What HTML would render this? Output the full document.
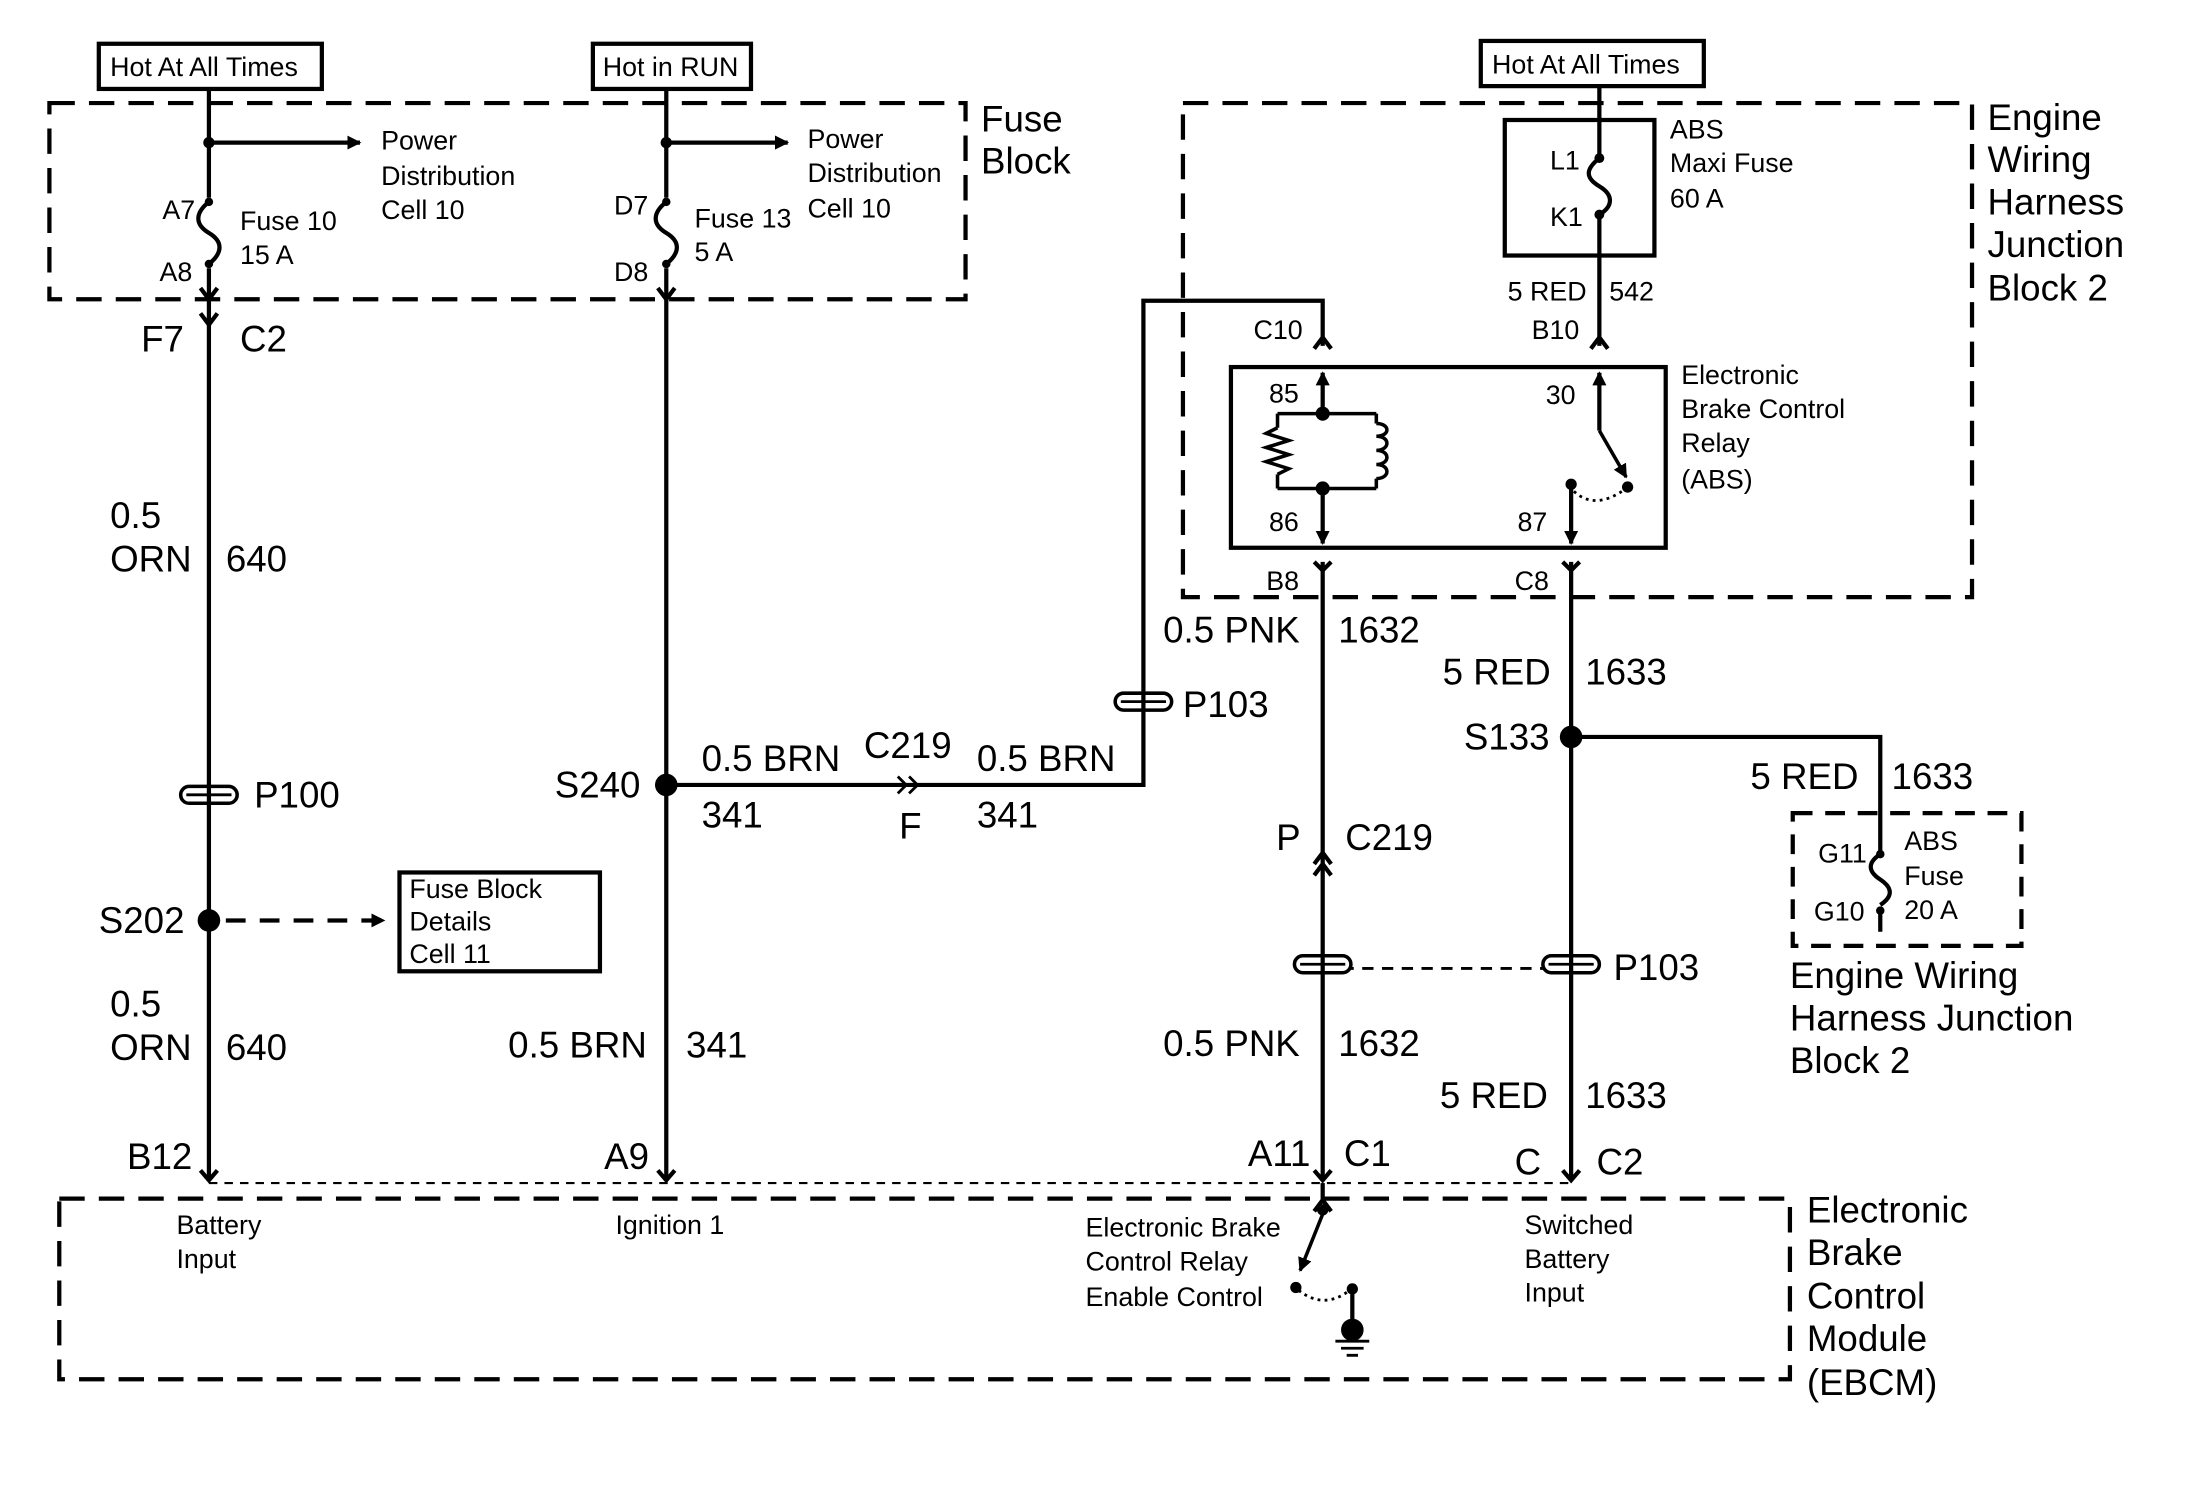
<!DOCTYPE html>
<html><head><meta charset="utf-8"><style>
html,body{margin:0;padding:0;background:#fff;}
svg{display:block}
text{font-family:"Liberation Sans",Arial,sans-serif;fill:#000}
.s{font-size:19px}.l{font-size:26px}
</style></head><body>
<svg width="2212" height="1488" viewBox="0 0 1567 1054" preserveAspectRatio="none" xmlns="http://www.w3.org/2000/svg">
<defs>
<marker id="ah" markerWidth="10" markerHeight="10" refX="9" refY="5" orient="auto" markerUnits="userSpaceOnUse"><path d="M0,0 L10,5 L0,10 z" fill="#000"/></marker>
</defs>
<g fill="none" stroke="#000" stroke-width="3">
<rect x="70" y="31" width="158" height="32"/>
<rect x="420" y="31" width="112" height="32"/>
<rect x="1049" y="29" width="158" height="32"/>
<rect x="35" y="73" width="649" height="139" stroke-dasharray="18,10"/>
<rect x="838" y="73" width="559" height="350" stroke-dasharray="18,10"/>
<rect x="1270" y="576" width="162" height="94" stroke-dasharray="14,9"/>
<rect x="42" y="849" width="1226" height="128" stroke-dasharray="18,10"/>
<path d="M148 63 V140 M148 190 V835"/>
<path d="M148 140 c-10 8 -10 16 0 22 c10 6 10 14 0 22" transform="translate(0,3)"/>
<path d="M148 101 H255" marker-end="url(#ah)"/>
<path d="M142 204 L148 212 L154 204"/>
<path d="M142 222 L148 230 L154 222"/>
<path d="M472 63 V140 M472 190 V835"/>
<path d="M472 140 c-10 8 -10 16 0 22 c10 6 10 14 0 22" transform="translate(0,3)"/>
<path d="M472 101 H558" marker-end="url(#ah)"/>
<path d="M466 204 L472 212 L478 204"/>
<path d="M472 556 H810 V213 H937 V245"/>
<path d="M636 550 L642 556 L636 562 M644 550 L650 556 L644 562" stroke-width="2"/>
<path d="M931 247 L937 239 L943 247"/>
<rect x="1066" y="85" width="106" height="96"/>
<path d="M1133 61 V112 M1133 152 V245"/>
<path d="M1133 112 c-10 8 -10 14 0 20 c10 6 10 14 0 20"/>
<path d="M1127 247 L1133 239 L1139 247"/>
<rect x="872" y="260" width="308" height="128"/>
<path d="M937 293 V264" marker-end="url(#ah)"/>
<path d="M937 346 V385" marker-end="url(#ah)"/>
<path d="M905 293 H975 M905 346 H975 M905 293 V303 M905 336 V346 M975 293 V300 M975 339 V346" stroke-width="2.5"/>
<path d="M905 303 l-8 4 l16 5 l-16 5 l16 5 l-16 5 l16 5 l-8 4" stroke-width="2.5"/>
<path d="M975 300 c10 0 10 9 0 9 c10 0 10 10 0 10 c10 0 10 10 0 10 c10 0 10 10 0 10" stroke-width="2.5"/>
<path d="M1133 305 V264" marker-end="url(#ah)"/>
<path d="M1133 305 L1152 338" marker-end="url(#ah)" stroke-width="2.5"/>
<path d="M1113 343 V385" marker-end="url(#ah)"/>
<path d="M1115 348 Q1130 362 1152 346" stroke-dasharray="2,3" stroke-width="2"/>
<path d="M931 398 L937 404 L943 398"/>
<path d="M1107 398 L1113 404 L1119 398"/>
<path d="M937 398 V835 M1113 398 V835"/>
<path d="M931 612 L937 604 L943 612 M931 620 L937 612 L943 620"/>
<path d="M1113 522 H1332 V605 M1332 645 V660"/>
<path d="M1332 605 c-9 6 -9 12 0 18 c9 6 9 12 0 18"/>
<path d="M937 686 H1113" stroke-dasharray="8,6" stroke-width="2"/>
<path d="M142 829 L148 836 L154 829 M466 829 L472 836 L478 829 M931 829 L937 836 L943 829 M1107 829 L1113 836 L1119 829"/>
<path d="M148 838 H1113" stroke-dasharray="6,5" stroke-width="1.5"/>
<path d="M160 652 H272" stroke-dasharray="14,10" marker-end="url(#ah)"/>
<rect x="283" y="618" width="142" height="70"/>
<path d="M937 838 V852"/>
<path d="M931 858 L937 850 L943 858"/>
<path d="M937 860 L921 900" marker-end="url(#ah)" stroke-width="2.5"/>
<path d="M920 914 Q938 928 956 914" stroke-dasharray="2,3" stroke-width="2"/>
<path d="M958 913 V940"/>
<path d="M946 950 H970 M950 955 H966 M954 960 H962" stroke-width="2"/>
</g>
<g fill="#000">
<circle cx="148" cy="101" r="4"/><circle cx="472" cy="101" r="4"/>
<circle cx="148" cy="143" r="3"/><circle cx="148" cy="187" r="3"/>
<circle cx="472" cy="143" r="3"/><circle cx="472" cy="187" r="3"/>
<circle cx="1133" cy="112" r="3.5"/><circle cx="1133" cy="152" r="3.5"/>
<circle cx="1332" cy="605" r="3"/><circle cx="1332" cy="645" r="3"/>
<circle cx="937" cy="293" r="5"/><circle cx="937" cy="346" r="5"/>
<circle cx="1153" cy="345" r="4"/><circle cx="1113" cy="343" r="4"/>
<circle cx="148" cy="652" r="8"/><circle cx="472" cy="556" r="8"/><circle cx="1113" cy="522" r="8"/>
<circle cx="937" cy="857" r="4"/><circle cx="918" cy="912" r="4"/><circle cx="958" cy="913" r="4"/>
<circle cx="958" cy="942" r="8"/>
</g>
<g fill="#fff" stroke="#000" stroke-width="2.5">
<rect x="128" y="557" width="40" height="12" rx="6"/>
<rect x="790" y="491" width="40" height="12" rx="6"/>
<rect x="917" y="677" width="40" height="12" rx="6"/>
<rect x="1093" y="677" width="40" height="12" rx="6"/>
</g>
<g stroke="#000" stroke-width="2">
<path d="M132 563 H164 M794 497 H826 M921 683 H953 M1097 683 H1129"/>
<path d="M148 557 V569 M810 491 V503 M937 677 V689 M1113 677 V689" stroke-width="3"/>
</g>
<g class="s">
<text x="78" y="54">Hot At All Times</text>
<text x="427" y="54">Hot in RUN</text>
<text x="1057" y="52">Hot At All Times</text>
<text x="270" y="106">Power</text><text x="270" y="131">Distribution</text><text x="270" y="155">Cell 10</text>
<text x="572" y="105">Power</text><text x="572" y="129">Distribution</text><text x="572" y="154">Cell 10</text>
<text x="115" y="155">A7</text><text x="170" y="163">Fuse 10</text><text x="170" y="187">15 A</text><text x="113" y="199">A8</text>
<text x="435" y="152">D7</text><text x="492" y="161">Fuse 13</text><text x="492" y="185">5 A</text><text x="435" y="199">D8</text>
<text x="1098" y="120">L1</text><text x="1098" y="160">K1</text>
<text x="1183" y="98">ABS</text><text x="1183" y="122">Maxi Fuse</text><text x="1183" y="147">60 A</text>
<text x="1068" y="213">5 RED</text><text x="1140" y="213">542</text>
<text x="1085" y="240">B10</text><text x="888" y="240">C10</text>
<text x="899" y="285">85</text><text x="899" y="376">86</text><text x="1095" y="286">30</text><text x="1075" y="376">87</text>
<text x="1191" y="272">Electronic</text><text x="1191" y="296">Brake Control</text><text x="1191" y="320">Relay</text><text x="1191" y="346">(ABS)</text>
<text x="897" y="418">B8</text><text x="1073" y="418">C8</text>
<text x="290" y="636">Fuse Block</text><text x="290" y="659">Details</text><text x="290" y="682">Cell 11</text>
<text x="1288" y="611">G11</text><text x="1285" y="652">G10</text>
<text x="1349" y="602">ABS</text><text x="1349" y="627">Fuse</text><text x="1349" y="651">20 A</text>
<text x="125" y="874">Battery</text><text x="125" y="898">Input</text>
<text x="436" y="874">Ignition 1</text>
<text x="769" y="876">Electronic Brake</text><text x="769" y="900">Control Relay</text><text x="769" y="925">Enable Control</text>
<text x="1080" y="874">Switched</text><text x="1080" y="898">Battery</text><text x="1080" y="922">Input</text>
</g>
<g class="l">
<text x="695" y="93">Fuse</text><text x="695" y="123">Block</text>
<text x="1408" y="92">Engine</text><text x="1408" y="122">Wiring</text><text x="1408" y="152">Harness</text><text x="1408" y="182">Junction</text><text x="1408" y="213">Block 2</text>
<text x="100" y="249">F7</text><text x="170" y="249">C2</text>
<text x="78" y="374">0.5</text><text x="78" y="405">ORN</text><text x="160" y="405">640</text>
<text x="180" y="572">P100</text>
<text x="70" y="661">S202</text>
<text x="78" y="720">0.5</text><text x="78" y="751">ORN</text><text x="160" y="751">640</text>
<text x="90" y="828">B12</text>
<text x="393" y="565">S240</text>
<text x="497" y="546">0.5 BRN</text><text x="497" y="586">341</text>
<text x="612" y="537">C219</text><text x="637" y="594">F</text>
<text x="692" y="546">0.5 BRN</text><text x="692" y="586">341</text>
<text x="838" y="508">P103</text>
<text x="360" y="749">0.5 BRN</text><text x="486" y="749">341</text>
<text x="428" y="828">A9</text>
<text x="824" y="455">0.5 PNK</text><text x="948" y="455">1632</text>
<text x="1022" y="485">5 RED</text><text x="1123" y="485">1633</text>
<text x="1037" y="531">S133</text>
<text x="1240" y="559">5 RED</text><text x="1340" y="559">1633</text>
<text x="904" y="602">P</text><text x="953" y="602">C219</text>
<text x="1143" y="694">P103</text>
<text x="1268" y="700">Engine Wiring</text><text x="1268" y="730">Harness Junction</text><text x="1268" y="760">Block 2</text>
<text x="824" y="748">0.5 PNK</text><text x="948" y="748">1632</text>
<text x="1020" y="785">5 RED</text><text x="1123" y="785">1633</text>
<text x="884" y="826">A11</text><text x="952" y="826">C1</text>
<text x="1073" y="832">C</text><text x="1131" y="832">C2</text>
<text x="1280" y="866">Electronic</text><text x="1280" y="896">Brake</text><text x="1280" y="927">Control</text><text x="1280" y="957">Module</text><text x="1280" y="988">(EBCM)</text>
</g>
</svg>
</body></html>
